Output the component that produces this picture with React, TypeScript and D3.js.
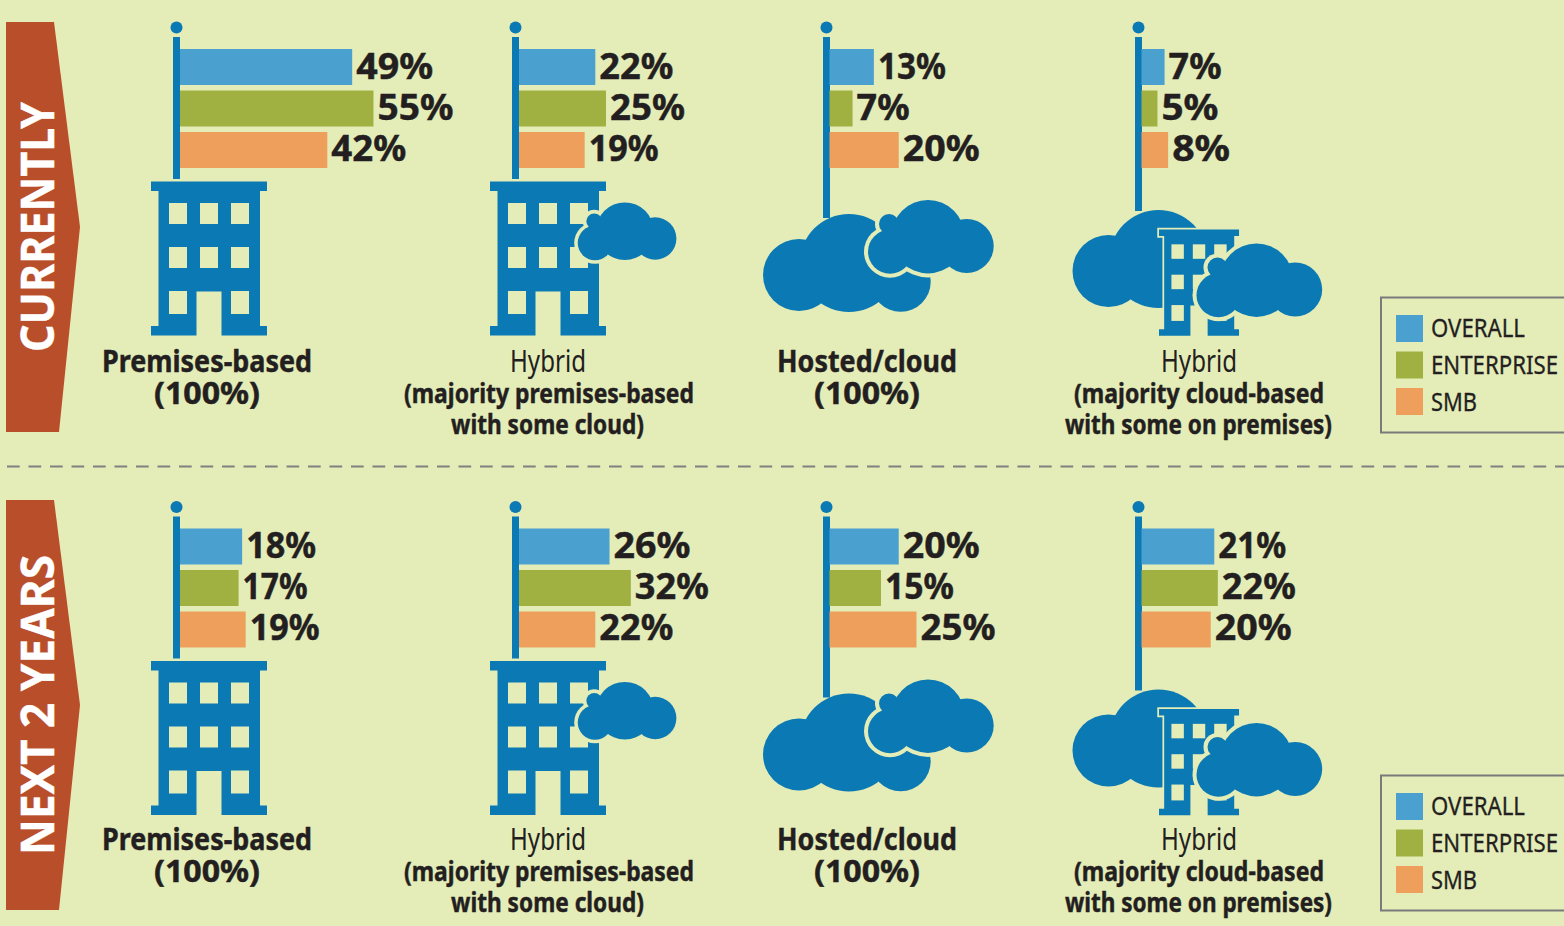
import React from "react";
import * as d3 from "d3";

const seriesNames = ["OVERALL", "ENTERPRISE", "SMB"];
const currentPremises = [49, 55, 42];
const currentHybridPrem = [22, 25, 19];
const currentCloud = [13, 7, 20];
const currentHybridCloud = [7, 5, 8];
const nextPremises = [18, 17, 19];
const nextHybridPrem = [26, 32, 22];
const nextCloud = [20, 15, 25];
const nextHybridCloud = [21, 22, 20];
const rowTitles = ["CURRENTLY", "NEXT 2 YEARS"];

const BG = "#e4ecb8", BLUE = "#0a79b4", INK = "#231f20";
const seriesColor = d3.scaleOrdinal<string, string>().domain(seriesNames).range(["#4aa0cf", "#a0b141", "#ee9f5c"]);
const xLen = d3.scaleLinear().domain([0.5, 100.5]).range([0, 355]);
const yBand = d3.scaleBand<string>().domain(seriesNames).range([49, 168]).paddingInner(0.1325).paddingOuter(0);
const legendY = d3.scalePoint<string>().domain(seriesNames).range([315, 388]);

const FONT = "'Noto Sans', sans-serif";

const glyphW: Record<string, number> = { "0": 25, "1": 16, "2": 22, "3": 22, "4": 23, "5": 23, "6": 25, "7": 19, "8": 24, "9": 24 };
function pctWidth(v: number) {
  const s = String(v);
  return d3.sum(s.split(""), (c) => glyphW[c]) + 30 + (s.length === 1 ? 4 : 0);
}

function T({ x, y, w, size, bold = true, anchor = "middle", fill = INK, children, ...rest }: any) {
  return (
    <text x={x} y={y} fontFamily={FONT} fontSize={size} fontWeight={bold ? 700 : 400} textAnchor={anchor} fill={fill}
      stroke={bold ? fill : undefined} strokeWidth={bold ? 0.45 : undefined}
      textLength={w} lengthAdjust={w ? "spacingAndGlyphs" : undefined} {...rest}>{children}</text>
  );
}

function buildingPath() {
  const p = d3.path();
  p.moveTo(0, 0); p.lineTo(116, 0); p.lineTo(116, 9.5); p.lineTo(109, 9.5); p.lineTo(109, 144.5); p.lineTo(116, 144.5);
  p.lineTo(116, 154); p.lineTo(70.5, 154); p.lineTo(70.5, 110); p.lineTo(45.5, 110); p.lineTo(45.5, 154); p.lineTo(0, 154);
  p.lineTo(0, 144.5); p.lineTo(7.5, 144.5); p.lineTo(7.5, 9.5); p.lineTo(0, 9.5); p.closePath();
  return p.toString();
}
const winX = [18, 49, 80];
const winY: [number, number][] = [[21.5, 21], [65.5, 21], [109.5, 23]];

function Building({ tx, ty, sx = 1, sy = 1, halo = false }: any) {
  return (
    <g transform={`translate(${tx},${ty}) scale(${sx},${sy})`}>
      {halo && <path d={buildingPath()} fill={BG} stroke={BG} strokeWidth={5} />}
      <path d={buildingPath()} fill={BLUE} />
      {winY.map(([y, h], r) => winX.map((x, c) => (r === 2 && c === 1 ? null :
        <rect key={`${r}-${c}`} x={x} y={y} width={18} height={h} fill={BG} />)))}
    </g>
  );
}

const bigCloudCircles = [[0, 0, 36], [50, -12, 49], [101.7, 6.7, 30]];
const smallCloudCircles = [[0, 0, 22], [-1, -27.7, 10], [38, -15, 36.7], [76.7, -5.7, 27]];

function Cloud({ tx, ty, s = 1, circles, halo = 0 }: any) {
  return (
    <g transform={`translate(${tx},${ty}) scale(${s})`}>
      {halo > 0 && circles.map((c: number[], i: number) => <circle key={"h" + i} cx={c[0]} cy={c[1]} r={c[2] + halo} fill={BG} />)}
      {circles.map((c: number[], i: number) => <circle key={i} cx={c[0]} cy={c[1]} r={c[2]} fill={BLUE} />)}
    </g>
  );
}

function Flag({ poleX, barX, poleEnd, values, labelDy = 0 }: any) {
  return (
    <g>
      <circle cx={poleX + 3.5} cy={27.5} r={6} fill={BLUE} />
      <rect x={poleX} y={37} width={7} height={poleEnd - 37} fill={BLUE} />
      {seriesNames.map((s, i) => (
        <g key={s}>
          <rect x={barX} y={yBand(s)} width={xLen(values[i])} height={yBand.bandwidth()} fill={seriesColor(s)} />
          <T x={barX + xLen(values[i]) + 4} y={(yBand(s) as number) + 29.5 + labelDy} size={36} anchor="start"
            w={pctWidth(values[i])}>{values[i]}%</T>
        </g>
      ))}
    </g>
  );
}

function Legend() {
  return (
    <g>
      <rect x={1381} y={297.5} width={220} height={135} fill="none" stroke="#7a7a7a" strokeWidth={2} />
      {seriesNames.map((s, i) => (
        <g key={s}>
          <rect x={1396} y={legendY(s)} width={27} height={27} fill={seriesColor(s)} />
          <T x={1431} y={(legendY(s) as number) + 22 + (i === 2 ? 1 : 0)} size={24.5} bold={false} anchor="start" w={[94, 127, 46][i]} stroke={INK} strokeWidth={0.3}>{s}</T>
        </g>
      ))}
    </g>
  );
}

function Row({ title, titleLen, titleY, dyText, dyArt, labelDy, groups }: any) {
  return (
    <g>
      <g transform={`translate(0,${dyText})`}>
        <polygon points="6,22 54,22 80,227 59,432 6,432" fill="#b94e2a" />
        <g transform={`translate(53.5,${titleY}) rotate(-90)`}>
          <T x={0} y={0} size={46} anchor="start" fill="#ffffff" w={titleLen}>{title}</T>
        </g>
        <T x={207} y={372} size={30} w={210}>Premises-based</T>
        <T x={207} y={404} size={30} w={106}>(100%)</T>
        <T x={548} y={372} size={30} bold={false} w={76}>Hybrid</T>
        <T x={549} y={403} size={27} w={290}>(majority premises-based</T>
        <T x={547.5} y={434} size={27} w={193}>with some cloud)</T>
        <T x={867} y={372} size={30} w={180}>Hosted/cloud</T>
        <T x={867} y={404} size={30} w={106}>(100%)</T>
        <T x={1199} y={372} size={30} bold={false} w={76}>Hybrid</T>
        <T x={1199} y={403} size={27} w={250}>(majority cloud-based</T>
        <T x={1198.5} y={434} size={27} w={267}>with some on premises)</T>
        <Legend />
      </g>
      <g transform={`translate(0,${dyArt})`}>
        <Building tx={151} ty={181.5} />
        <Flag poleX={173} barX={180} poleEnd={179} values={groups[0]} labelDy={labelDy} />

        <Building tx={490} ty={181.5} />
        <Flag poleX={512} barX={519} poleEnd={179} values={groups[1]} labelDy={labelDy} />
        <Cloud tx={595} ty={243} s={0.785} circles={smallCloudCircles} halo={4.5} />

        <Flag poleX={823} barX={829.5} poleEnd={218} values={groups[2]} labelDy={labelDy} />
        <Cloud tx={799} ty={275} circles={bigCloudCircles} />
        <Cloud tx={890} ty={251.7} circles={smallCloudCircles} halo={4} />

        <Flag poleX={1135} barX={1141.5} poleEnd={211} values={groups[3]} labelDy={labelDy} />
        <Cloud tx={1108.5} ty={271} circles={bigCloudCircles.slice(0, 2)} />
        <Building tx={1159} ty={229.5} sx={0.69} sy={0.69} halo />
        <Cloud tx={1218.5} ty={295.2} circles={smallCloudCircles} halo={4} />
      </g>
    </g>
  );
}

export default function App() {
  return (
    <div style={{ position: "absolute", left: 0, top: 0 }}>
      <svg width={1564} height={926} style={{ display: "block" }}>
        <rect width={1564} height={926} fill={BG} />
        <line x1={7} x2={1564} y1={466.5} y2={466.5} stroke="#808080" strokeWidth={2} strokeDasharray="12.7 8.8" />
        <Row title={rowTitles[0]} titleLen={250} titleY={352} dyText={0} dyArt={0} labelDy={0}
          groups={[currentPremises, currentHybridPrem, currentCloud, currentHybridCloud]} />
        <Row title={rowTitles[1]} titleLen={300} titleY={377} dyText={478} dyArt={479.5} labelDy={-0.5}
          groups={[nextPremises, nextHybridPrem, nextCloud, nextHybridCloud]} />
      </svg>
    </div>
  );
}
